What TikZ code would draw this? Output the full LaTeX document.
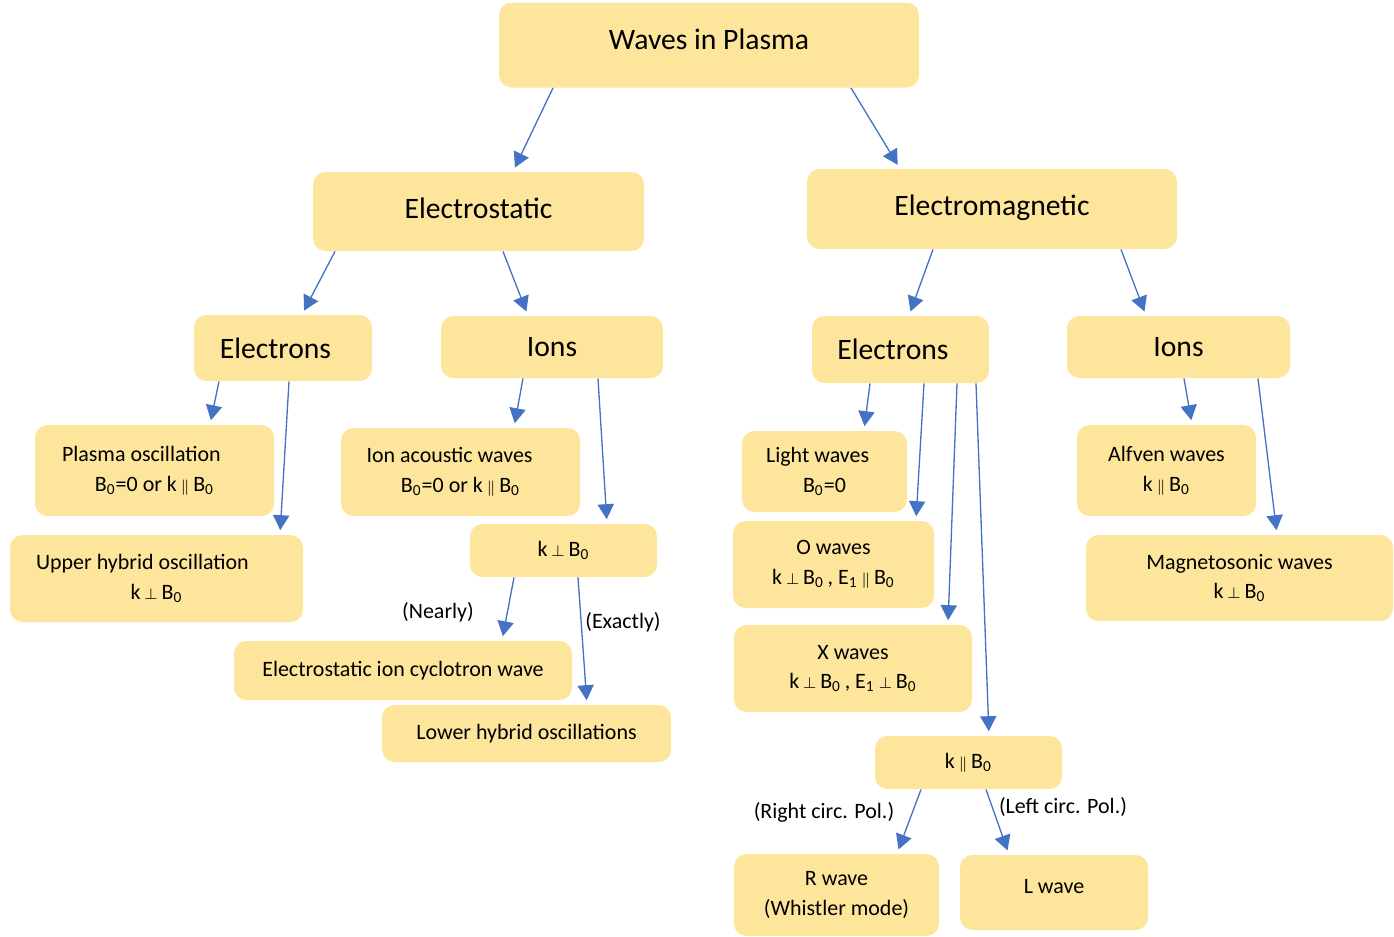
\documentclass[tikz,border=0pt]{standalone}
\usepackage{fontspec}
\setmainfont{Carlito}
\usetikzlibrary{arrows.meta}

\definecolor{boxfill}{HTML}{FEE59C}
\definecolor{arrowblue}{HTML}{4472C4}

\newcommand{\bnot}{B\textsubscript{0}}
\newcommand{\eone}{E\textsubscript{1}}
\newcommand{\kperp}{\,{\scriptsize$\perp$}\,}
\newcommand{\kpar}{\,{\scriptsize$\parallel$}\,}

\tikzset{
  wave/.style={fill=boxfill, draw=none, rounded corners=0.2cm, align=center, inner sep=0pt},
  bigwave/.style={wave, font=\fontsize{13.5}{16}\selectfont},
  smallwave/.style={wave, font=\fontsize{10}{13.5}\selectfont},
  flow/.style={draw=arrowblue, line width=0.6pt, -{Triangle[width=0.26cm, length=0.24cm]}, shorten >=2pt},
  tag/.style={font=\fontsize{10}{12}\selectfont}
}

\begin{document}
\begin{tikzpicture}[x=0.016cm, y=-0.016cm]
    \def\u{0.016cm}
    \useasboundingbox (0,0) rectangle (1394,937);

% first levels
    \node[bigwave, minimum width=420*\u, minimum height=85*\u] (plasma) at (709,45) {\raisebox{0.17cm}{Waves in Plasma}};
    \node[bigwave, minimum width=331*\u, minimum height=79*\u] (es) at (478.5,211.5) {\raisebox{0.09cm}{Electrostatic}};
    \node[bigwave, minimum width=370*\u, minimum height=80*\u] (em) at (992,209) {\raisebox{0.11cm}{Electromagnetic}};

    \node[bigwave, minimum width=178*\u, minimum height=66*\u] (esel) at (283,348) {Electrons\hspace*{0.24cm}};
    \node[bigwave, minimum width=222*\u, minimum height=62*\u] (esion) at (552,347) {\raisebox{-0.05cm}{Ions}};
    \node[bigwave, minimum width=177*\u, minimum height=67*\u] (emel) at (900.5,349.5) {Electrons\hspace*{0.24cm}};
    \node[bigwave, minimum width=223*\u, minimum height=62*\u] (emion) at (1178.5,347) {\raisebox{-0.05cm}{Ions}};

% electrostatic, electrons and ions
    \node[smallwave, minimum width=239*\u, minimum height=91*\u] (plosc) at (154.5,470.5) {Plasma oscillation\hspace*{0.42cm}\\ \bnot=0 or k\kpar\bnot};
    \node[smallwave, minimum width=293*\u, minimum height=87*\u] (upper) at (156.5,578.5) {Upper hybrid oscillation\hspace*{0.45cm}\\ k\kperp\bnot};
    \node[smallwave, minimum width=239*\u, minimum height=88*\u] (ionac) at (460.5,472) {Ion acoustic waves\hspace*{0.35cm}\\ \bnot=0 or k\kpar\bnot};
    \node[smallwave, minimum width=187*\u, minimum height=53*\u] (esperp) at (563.5,550.5) {k\kperp\bnot};
    \node[smallwave, minimum width=338*\u, minimum height=59*\u] (esic) at (403,670.5) {Electrostatic ion cyclotron wave};
    \node[smallwave, minimum width=289*\u, minimum height=57*\u] (lower) at (526.5,733.5) {Lower hybrid oscillations};

% electromagnetic, electrons
    \node[smallwave, minimum width=165*\u, minimum height=81*\u] (light) at (824.5,471.5) {Light waves\hspace*{0.22cm}\\ \bnot=0};
    \node[smallwave, minimum width=201*\u, minimum height=87*\u] (owave) at (833.5,564.5) {O waves\\ k\kperp\bnot\,, \eone\kpar\bnot};
    \node[smallwave, minimum width=238*\u, minimum height=87*\u] (xwave) at (853,668.5) {X waves\\ k\kperp\bnot\,, \eone\kperp\bnot};
    \node[smallwave, minimum width=187*\u, minimum height=53*\u] (empar) at (968.5,762.5) {k\kpar\bnot};
    \node[smallwave, minimum width=205*\u, minimum height=82*\u] (rwave) at (836.5,895) {R wave\\ (Whistler mode)};
    \node[smallwave, minimum width=188*\u, minimum height=75*\u] (lwave) at (1054,892.5) {\raisebox{0.18cm}{L wave}};

% electromagnetic, ions
    \node[smallwave, minimum width=179*\u, minimum height=91*\u] (alfven) at (1166.5,470.5) {Alfven waves\\ k\kpar\bnot};
    \node[smallwave, minimum width=307*\u, minimum height=86*\u] (magneto) at (1239.5,578) {Magnetosonic waves\\ k\kperp\bnot};

% arrows
    \draw[flow] ([xshift=-156*\u]plasma.south) -- ([xshift=34.5*\u]es.north);
    \draw[flow] ([xshift=142*\u]plasma.south) -- ([xshift=-92*\u]em.north);

    \draw[flow] ([xshift=-143.5*\u]es.south) -- ([xshift=19*\u]esel.north);
    \draw[flow] ([xshift=24.5*\u]es.south) -- ([xshift=-24*\u]esion.north);
    \draw[flow] ([xshift=-59*\u]em.south) -- ([xshift=8.5*\u]emel.north);
    \draw[flow] ([xshift=129*\u]em.south) -- ([xshift=-32.5*\u]emion.north);

    \draw[flow] ([xshift=-64*\u]esel.south) -- ([xshift=55.5*\u]plosc.north);
    \draw[flow] ([xshift=6*\u]esel.south) -- ([xshift=123.5*\u]upper.north);
    \draw[flow] ([xshift=-29*\u]esion.south) -- ([xshift=53.5*\u]ionac.north);
    \draw[flow] ([xshift=46*\u]esion.south) -- ([xshift=43.5*\u]esperp.north);
    \draw[flow] ([xshift=-49.5*\u]esperp.south) -- ([xshift=99*\u]esic.north);
    \draw[flow] ([xshift=14.5*\u]esperp.south) -- ([xshift=60.5*\u]lower.north);

    \draw[flow] ([xshift=-30.5*\u]emel.south) -- ([xshift=39.5*\u]light.north);
    \draw[flow] ([xshift=23.5*\u]emel.south) -- ([xshift=82.5*\u]owave.north);
    \draw[flow] ([xshift=56.5*\u]emel.south) -- ([xshift=95*\u]xwave.north);
    \draw[flow] ([xshift=75.5*\u]emel.south) -- ([xshift=20.5*\u]empar.north);
    \draw[flow] ([xshift=-47.5*\u]empar.south) -- ([xshift=60.5*\u]rwave.north);
    \draw[flow] ([xshift=17.5*\u]empar.south) -- ([xshift=-45*\u]lwave.north);

    \draw[flow] ([xshift=5.5*\u]emion.south) -- ([xshift=25.5*\u]alfven.north);
    \draw[flow] ([xshift=79.5*\u]emion.south) -- ([xshift=37.5*\u]magneto.north);

% arrow labels
    \node[tag] (nearly) at (438,612) {(Nearly)};
    \node[tag] (exactly) at (623,622) {(Exactly)};
    \node[tag] (rightpol) at (824,812) {(Right circ. Pol.)};
    \node[tag] (leftpol) at (1063,807) {(Left circ. Pol.)};
\end{tikzpicture}
\end{document}
